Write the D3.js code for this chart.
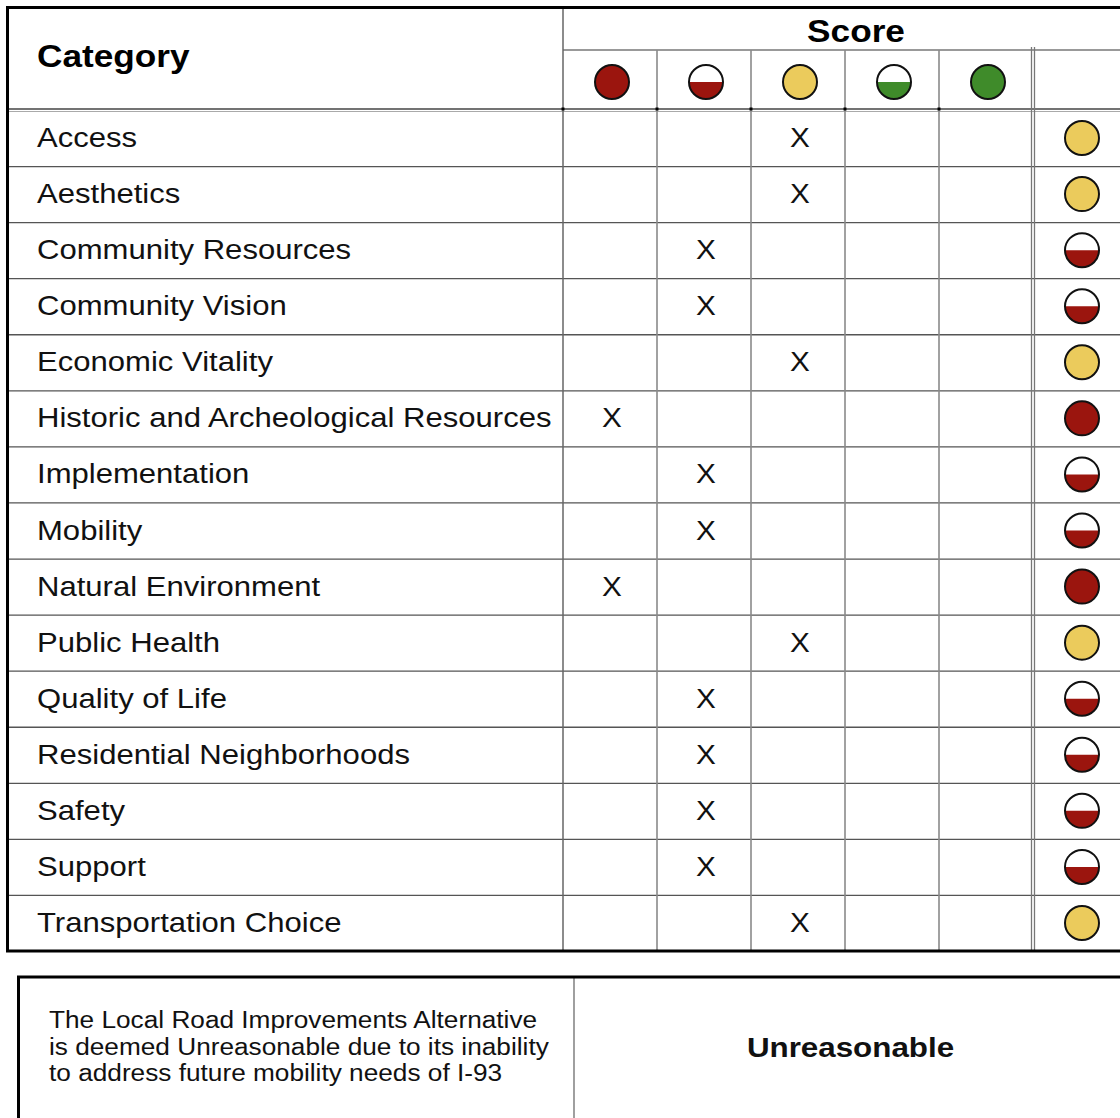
<!DOCTYPE html>
<html><head><meta charset="utf-8">
<script src="https://cdn.jsdelivr.net/npm/d3@7"></script>
<style>html,body{margin:0;padding:0;background:#fff;}svg{display:block;}</style>
</head><body>
<script>
const categories = ["Access","Aesthetics","Community Resources","Community Vision","Economic Vitality","Historic and Archeological Resources","Implementation","Mobility","Natural Environment","Public Health","Quality of Life","Residential Neighborhoods","Safety","Support","Transportation Choice"];
const scores = [3,3,2,2,3,1,2,2,1,3,2,2,2,2,3];
const levels = [1,2,3,4,5];
const levelColors = ["#9b150e","#9b150e","#ebcb5c","#3f8b2a","#3f8b2a"];
const levelHalf = [false,true,false,true,false];
const headerTitle = "Category";
const scoreTitle = "Score";
const noteLines = ["The Local Road Improvements Alternative","is deemed Unreasonable due to its inability","to address future mobility needs of I-93"];
const verdict = "Unreasonable";

(function(){
const W = 1120, H = 1118;
const svg = d3.select("body").append("svg").attr("width", W).attr("height", H);
const font = "'Liberation Sans', Arial, sans-serif";

const tLeft = 7.5, tTop = 7.5, catRight = 563, headMid = 50, headBottom = 110, tableBottom = 951;
const cols = levels.concat(["result"]);
const x = d3.scaleBand().domain(cols).range([catRight, catRight + 94 * 6]);
const y = d3.scaleBand().domain(categories).range([headBottom, tableBottom]);
const R = 17;

const g = svg.append("g");

function stext(sel, tx, ty, sx, txt, size, weight, anchor) {
  return sel.append("text").attr("transform", `translate(${tx},${ty}) scale(${sx},1)`)
    .attr("text-anchor", anchor || "start").text(txt)
    .attr("font-family", font).attr("font-weight", weight || "normal").attr("font-size", size).attr("fill", "#111");
}

g.selectAll("line.row").data(categories.slice(1)).join("line")
  .attr("x1", tLeft).attr("x2", W).attr("y1", d => y(d) + 0.5).attr("y2", d => y(d) + 0.5)
  .attr("stroke", "#555").attr("stroke-width", 1.3);

g.append("line").attr("x1", catRight).attr("x2", W).attr("y1", headMid).attr("y2", headMid).attr("stroke", "#777").attr("stroke-width", 1.5);
g.append("line").attr("x1", tLeft).attr("x2", W).attr("y1", headBottom - 1).attr("y2", headBottom - 1).attr("stroke", "#444").attr("stroke-width", 1.5);
g.append("line").attr("x1", tLeft).attr("x2", W).attr("y1", headBottom + 1.5).attr("y2", headBottom + 1.5).attr("stroke", "#aaa").attr("stroke-width", 1);

g.append("line").attr("x1", catRight).attr("x2", catRight).attr("y1", tTop).attr("y2", tableBottom).attr("stroke", "#666").attr("stroke-width", 1.5);
g.selectAll("line.col").data(levels.slice(1)).join("line")
  .attr("x1", d => x(d)).attr("x2", d => x(d)).attr("y1", headMid).attr("y2", tableBottom)
  .attr("stroke", "#8a8a8a").attr("stroke-width", 1.6);
[-1.5, 1.5].forEach(o => {
  g.append("line").attr("x1", x("result") + o).attr("x2", x("result") + o).attr("y1", headMid - 3).attr("y2", tableBottom)
    .attr("stroke", "#777").attr("stroke-width", 1.3);
});
g.selectAll("rect.dot").data([catRight].concat(levels.slice(1).map(d => x(d)))).join("rect")
  .attr("x", d => d - 1.5).attr("y", headBottom - 2.5).attr("width", 3).attr("height", 3).attr("fill", "#000");

g.append("path").attr("d", `M${W},${tTop}H${tLeft}V${tableBottom}H${W}`).attr("fill", "none").attr("stroke", "#000").attr("stroke-width", 3);

stext(g, 37, 67, 1.1, headerTitle, 32, "bold").attr("fill", "#000");
stext(g, 856, 42, 1.1, scoreTitle, 32, "bold", "middle").attr("fill", "#000");

const arc = d3.arc().innerRadius(0).outerRadius(R).startAngle(Math.PI / 2).endAngle(3 * Math.PI / 2);
function drawSym(sel, level, cx, cy) {
  const i = level - 1;
  const gg = sel.append("g").attr("transform", `translate(${cx},${cy})`);
  gg.append("circle").attr("r", R).attr("fill", levelHalf[i] ? "#fff" : levelColors[i]);
  if (levelHalf[i]) gg.append("path").attr("d", arc()).attr("fill", levelColors[i]);
  gg.append("circle").attr("r", R).attr("fill", "none").attr("stroke", "#111").attr("stroke-width", 2);
}
const hy = (headMid + headBottom) / 2 + 2;
levels.forEach(l => drawSym(g, l, x(l) + x.bandwidth() / 2 + 2, hy));

categories.forEach((c, i) => {
  const cy = y(c) + y.bandwidth() / 2;
  stext(g, 37, cy + 9, 1.13, c, 27.5);
  stext(g, x(scores[i]) + x.bandwidth() / 2 + 2, cy + 9, 1.1, "X", 27, "normal", "middle");
  drawSym(g, scores[i], x("result") + x.bandwidth() / 2 + 2, cy);
});

const bTop = 977, bLeft = 18.5, bDiv = 574;
g.append("line").attr("x1", bDiv).attr("x2", bDiv).attr("y1", bTop).attr("y2", H).attr("stroke", "#888").attr("stroke-width", 1.6);
g.append("path").attr("d", `M${W},${bTop}H${bLeft}V${H}`).attr("fill", "none").attr("stroke", "#000").attr("stroke-width", 3);
noteLines.forEach((t, i) => stext(g, 49, 1028 + i * 26.5, 1.13, t, 23.2));
stext(g, (bDiv + x("result") + x.bandwidth()) / 2, 1057, 1.1, verdict, 28.5, "bold", "middle");
})();
</script>
</body></html>
